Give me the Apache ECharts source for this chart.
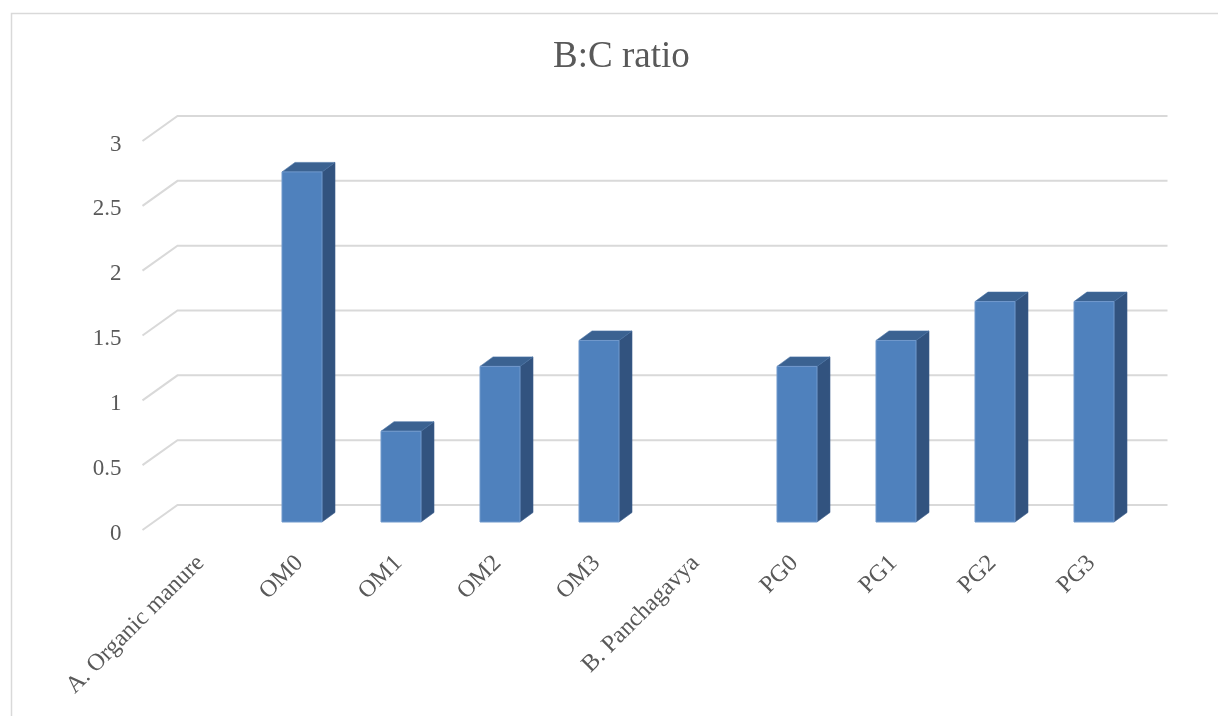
<!DOCTYPE html>
<html>
<head>
<meta charset="utf-8">
<title>B:C ratio</title>
<script src="https://cdn.jsdelivr.net/npm/echarts@6/dist/echarts.min.js"></script>
<style>
  html, body { margin: 0; padding: 0; background: #ffffff; }
  #chart { width: 1218px; height: 716px; }
</style>
</head>
<body>
<div id="chart"></div>
<script>
// Treatments, grouped under two headings that carry no value of their own
const categories = ['A. Organic manure', 'OM0', 'OM1', 'OM2', 'OM3', 'B. Panchagavya', 'PG0', 'PG1', 'PG2', 'PG3'];
// Benefit : cost ratio per treatment
const bcRatio = [null, 2.7, 0.7, 1.2, 1.4, null, 1.2, 1.4, 1.7, 1.7];
// Value axis ticks
const yTicks = [0, 0.5, 1, 1.5, 2, 2.5, 3];

// Oblique 3D look: the grid is the front edge of the floor,
// bars sit a little behind it and the back wall sits further back.
const WALL_DX = 35, WALL_DY = -25;
const BAR_DX = 11, BAR_DY = -8;
const DEPTH_DX = 13, DEPTH_DY = -9.5;
const BAR_W = 40;

const FONT = '"Liberation Serif", "DejaVu Serif", serif';
const TEXT = '#595959';
const GRID_LINE = '#d9d9d9';

const chart = echarts.init(document.getElementById('chart'), null, { renderer: 'canvas' });

function renderWall(params, api) {
  const cs = params.coordSys;
  const y = api.coord([0, api.value(1)])[1];
  const x0 = cs.x;
  return {
    type: 'polyline',
    shape: {
      points: [
        [x0, y],
        [x0 + WALL_DX, y + WALL_DY],
        [x0 + cs.width + WALL_DX, y + WALL_DY]
      ]
    },
    style: { stroke: GRID_LINE, lineWidth: 2, fill: null },
    silent: true
  };
}

function renderBar(params, api) {
  const v = api.value(1);
  if (v == null || isNaN(v)) return;
  const cat = api.value(0);
  const base = api.coord([cat, 0]);
  const top = api.coord([cat, v]);
  const xl = base[0] + BAR_DX - BAR_W / 2;
  const xr = xl + BAR_W;
  const yb = base[1] + BAR_DY;
  const yt = top[1] + BAR_DY;
  return {
    type: 'group',
    children: [
      {
        type: 'polygon',
        shape: { points: [[xr, yb], [xr + DEPTH_DX, yb + DEPTH_DY], [xr + DEPTH_DX, yt + DEPTH_DY], [xr, yt]] },
        style: { fill: '#32537f', stroke: '#3a5d8c', lineWidth: 0.6 }
      },
      {
        type: 'polygon',
        shape: { points: [[xl, yt], [xr, yt], [xr + DEPTH_DX, yt + DEPTH_DY], [xl + DEPTH_DX, yt + DEPTH_DY]] },
        style: { fill: '#3b6291', stroke: '#4670a3', lineWidth: 0.6 }
      },
      {
        type: 'rect',
        shape: { x: xl, y: yt, width: BAR_W, height: yb - yt },
        style: { fill: '#4f81bd', stroke: '#7199cc', lineWidth: 1 }
      }
    ]
  };
}

chart.setOption({
  backgroundColor: '#ffffff',
  animation: false,
  title: {
    text: 'B:C ratio',
    left: 548,
    top: 34,
    textStyle: { fontFamily: FONT, fontSize: 37, fontWeight: 'normal', color: TEXT }
  },
  graphic: [{
    type: 'rect',
    left: 9, top: 11,
    shape: { width: 1300, height: 800 },
    style: { fill: 'none', stroke: GRID_LINE, lineWidth: 1.5 },
    silent: true
  }],
  grid: { left: 142.5, right: 85.5, top: 141, bottom: 186 },
  xAxis: {
    type: 'category',
    data: categories,
    boundaryGap: true,
    axisLine: { show: false },
    axisTick: { show: false },
    splitLine: { show: false },
    axisLabel: {
      interval: 0,
      rotate: 45,
      margin: 21,
      verticalAlign: 'top',
      fontFamily: FONT,
      fontSize: 24,
      color: TEXT
    }
  },
  yAxis: {
    type: 'value',
    min: 0,
    max: 3,
    interval: 0.5,
    axisLine: { show: false },
    axisTick: { show: false },
    splitLine: { show: false },
    axisLabel: {
      margin: 21,
      formatter: '{v|{value}}',
      rich: {
        v: {
          padding: [7, 0, 0, 0],
          fontFamily: FONT,
          fontSize: 23,
          color: TEXT
        }
      }
    }
  },
  series: [
    {
      type: 'custom',
      name: 'wall',
      renderItem: renderWall,
      data: yTicks.map(t => [0, t]),
      z: 1,
      silent: true,
      clip: false
    },
    {
      type: 'custom',
      name: 'B:C ratio',
      renderItem: renderBar,
      data: bcRatio.map((v, i) => [i, v == null ? '-' : v]),
      z: 2,
      clip: false
    }
  ]
});
</script>
</body>
</html>
